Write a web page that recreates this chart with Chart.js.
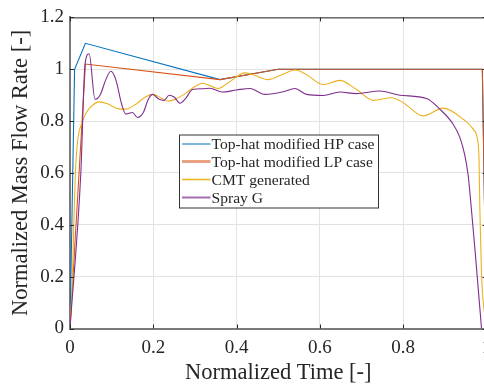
<!DOCTYPE html>
<html>
<head>
<meta charset="utf-8">
<script src="https://cdn.jsdelivr.net/npm/chart.js@4/dist/chart.umd.min.js"></script>
<style>
  html, body { margin: 0; padding: 0; background: #fff; overflow: hidden; }
  #wrap { width: 500px; height: 387px; }
</style>
</head>
<body>
<div id="wrap"><canvas id="c" width="500" height="387"></canvas></div>
<script>
// ---- data ----
const seriesNames = ['Top-hat modified HP case', 'Top-hat modified LP case', 'CMT generated', 'Spray G'];
const seriesColors = ['#0072BD', '#D95319', '#EDB120', '#7E2F8E'];

const hpX = [0, 0.011, 0.037, 0.36, 0.5, 0.99, 1.0];
const hpY = [0, 1.0, 1.1, 0.96, 1.0, 1.0, 0];

const lpX = [0, 0.037, 0.36, 0.5, 0.99, 1.0];
const lpY = [0, 1.02, 0.96, 1.0, 1.0, 0];

const cmtX = [0, 0.006, 0.009, 0.013, 0.018, 0.028, 0.04, 0.055, 0.07, 0.09, 0.114, 0.134, 0.158, 0.182, 0.2, 0.218, 0.236, 0.252, 0.274, 0.302, 0.318, 0.356, 0.38, 0.42, 0.44, 0.476, 0.51, 0.54, 0.568, 0.608, 0.648, 0.688, 0.728, 0.772, 0.8, 0.848, 0.896, 0.944, 0.968, 0.98, 0.982, 0.984, 0.988, 1.0];
const cmtY = [0, 0.2, 0.4, 0.6, 0.72, 0.79, 0.835, 0.862, 0.874, 0.867, 0.848, 0.846, 0.865, 0.894, 0.903, 0.89, 0.877, 0.884, 0.903, 0.935, 0.946, 0.926, 0.948, 0.986, 0.979, 0.96, 0.98, 0.997, 0.979, 0.941, 0.957, 0.922, 0.88, 0.89, 0.871, 0.82, 0.85, 0.807, 0.769, 0.712, 0.655, 0.463, 0.209, 0];

const sprayX = [0, 0.026, 0.036, 0.046, 0.06, 0.073, 0.086, 0.098, 0.11, 0.124, 0.134, 0.15, 0.162, 0.176, 0.188, 0.198, 0.214, 0.226, 0.238, 0.25, 0.264, 0.278, 0.294, 0.318, 0.336, 0.365, 0.4, 0.432, 0.468, 0.512, 0.54, 0.568, 0.608, 0.648, 0.688, 0.744, 0.792, 0.856, 0.888, 0.92, 0.936, 0.948, 0.956, 0.96, 0.972, 0.988];
const sprayY = [0, 0.6, 1.018, 1.06, 0.884, 0.903, 0.96, 0.992, 0.96, 0.865, 0.827, 0.833, 0.814, 0.833, 0.884, 0.903, 0.884, 0.88, 0.9, 0.893, 0.869, 0.888, 0.922, 0.925, 0.927, 0.912, 0.92, 0.926, 0.903, 0.913, 0.926, 0.903, 0.899, 0.912, 0.906, 0.916, 0.9, 0.887, 0.846, 0.788, 0.737, 0.668, 0.591, 0.527, 0.311, 0];

const xTickLabels = ['0', '0.2', '0.4', '0.6', '0.8', '1'];
const yTickLabels = ['0', '0.2', '0.4', '0.6', '0.8', '1', '1.2'];
const xTitle = 'Normalized Time [-]';
const yTitle = 'Normalized Mass Flow Rate [-]';

// ---- build ----
const pts = (xs, ys) => xs.map((x, i) => ({ x: x, y: ys[i] }));
const FONT = '"Liberation Serif", "Times New Roman", serif';
const TXT = '#262626';

const datasets = [
  { label: seriesNames[0], data: pts(hpX, hpY), borderColor: seriesColors[0], order: 4, tension: 0 },
  { label: seriesNames[1], data: pts(lpX, lpY), borderColor: seriesColors[1], order: 3, tension: 0 },
  { label: seriesNames[2], data: pts(cmtX, cmtY), borderColor: seriesColors[2], order: 2, cubicInterpolationMode: 'monotone' },
  { label: seriesNames[3], data: pts(sprayX, sprayY), borderColor: seriesColors[3], order: 1, cubicInterpolationMode: 'monotone' }
].map(d => Object.assign({ borderWidth: 1.1, pointRadius: 0, fill: false }, d));

const boxPlugin = {
  id: 'matlabBox',
  afterDraw(chart) {
    const ctx = chart.ctx;
    const a = chart.chartArea;
    const xs = chart.scales.x, ys = chart.scales.y;
    ctx.save();
    // top and right border
    ctx.strokeStyle = '#262626';
    ctx.lineWidth = 1;
    ctx.beginPath();
    ctx.moveTo(a.left, a.top + 0.5); ctx.lineTo(a.right, a.top + 0.5);
    ctx.moveTo(a.right - 0.5, a.top); ctx.lineTo(a.right - 0.5, a.bottom);
    ctx.stroke();
    // inward ticks
    const tl = 4;
    ctx.beginPath();
    xs.ticks.forEach(t => {
      const px = Math.round(xs.getPixelForValue(t.value)) + 0.5;
      ctx.moveTo(px, a.bottom); ctx.lineTo(px, a.bottom - tl);
      ctx.moveTo(px, a.top); ctx.lineTo(px, a.top + tl);
    });
    ys.ticks.forEach(t => {
      const py = Math.round(ys.getPixelForValue(t.value)) + 0.5;
      ctx.moveTo(a.left, py); ctx.lineTo(a.left + tl, py);
      ctx.moveTo(a.right, py); ctx.lineTo(a.right - tl, py);
    });
    ctx.stroke();

    // legend
    const L = 179.5, T = 135, R = 378.5, B = 208;
    ctx.fillStyle = '#fff';
    ctx.fillRect(L, T, R - L, B - T);
    ctx.strokeStyle = '#333';
    ctx.lineWidth = 1;
    ctx.strokeRect(L, T, R - L, B - T);
    const rows = [144, 161.5, 179.5, 197.5];
    const sampleW = [1, 3, 1.5, 2];
    const sampleA = [1, 0.55, 1, 0.7];
    ctx.font = '15.6px ' + FONT;
    ctx.textBaseline = 'middle';
    ctx.textAlign = 'left';
    seriesNames.forEach((n, i) => {
      ctx.globalAlpha = sampleA[i];
      ctx.strokeStyle = seriesColors[i];
      ctx.lineWidth = sampleW[i];
      ctx.beginPath();
      ctx.moveTo(182, rows[i]); ctx.lineTo(210.5, rows[i]);
      ctx.stroke();
      ctx.globalAlpha = 1;
      ctx.fillStyle = TXT;
      ctx.fillText(n, 211.5, rows[i] + 1);
    });
    ctx.restore();
  }
};

new Chart(document.getElementById('c'), {
  type: 'line',
  data: { datasets: datasets },
  options: {
    responsive: false,
    animation: false,
    devicePixelRatio: 1,
    layout: { padding: { left: 0, right: 13.5, top: 14, bottom: 0 } },
    plugins: { legend: { display: false }, tooltip: { enabled: false } },
    scales: {
      x: {
        type: 'linear', min: 0, max: 1,
        afterFit: s => { s.height = 58.5; },
        ticks: { stepSize: 0.2, padding: 8, color: TXT, font: { family: FONT, size: 19 },
          maxRotation: 0, callback: (v, i) => xTickLabels[i] },
        grid: { color: '#e3e3e3', drawTicks: false, lineWidth: 1 },
        border: { color: '#7a7a7a', width: 2 },
        title: { display: true, text: xTitle, color: TXT, font: { family: FONT, size: 22.5 }, padding: { top: 0, bottom: 0 } }
      },
      y: {
        type: 'linear', min: 0, max: 1.2,
        afterFit: s => { s.width = 70; },
        ticks: { stepSize: 0.2, padding: 6, color: TXT, font: { family: FONT, size: 19 },
          callback: (v, i) => yTickLabels[i] },
        grid: { color: '#e3e3e3', drawTicks: false, lineWidth: 1 },
        border: { color: '#7a7a7a', width: 2 },
        title: { display: true, text: yTitle, color: TXT, font: { family: FONT, size: 22.5 }, padding: { top: 8, bottom: 0 } }
      }
    }
  },
  plugins: [boxPlugin]
});
</script>
</body>
</html>
